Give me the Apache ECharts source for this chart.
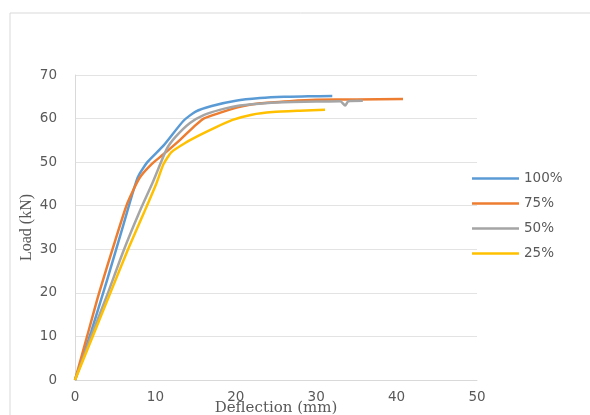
<!DOCTYPE html>
<html>
<head>
<meta charset="utf-8">
<script src="https://cdn.jsdelivr.net/npm/echarts@6/dist/echarts.min.js"></script>
<style>html,body{margin:0;padding:0;background:#fff}#c{width:590px;height:415px}</style>
</head>
<body>
<div id="c"></div>
<script>
const seriesNames = ['100%', '75%', '50%', '25%'];
const colors = ['#5B9BD5', '#ED7D31', '#A5A5A5', '#FFC000'];
const xTicks = [0, 10, 20, 30, 40, 50];
const yTicks = [0, 10, 20, 30, 40, 50, 60, 70];
const s100 = [[0,0],[2,11],[4,23],[6,35.5],[7.8,46.5],[9,50],[11,53.8],[13.5,59.5],[15,61.6],[17,62.9],[20,64.1],[23,64.7],[26,65],[29,65.1],[32,65.2]];
const s75 = [[0,0],[1.5,10],[3,20],[5,32],[6.5,40.5],[8,46.3],[9.5,49.5],[11,51.8],[13,55],[15,58.5],[16,60],[18,61.3],[20.5,62.7],[23,63.5],[26.7,64],[30,64.3],[35,64.4],[40.8,64.5]];
const s50 = [[0,0],[2,10],[4,19.5],[6,29.5],[8,38.5],[9.7,45.5],[11.4,53],[12.5,55.8],[14.3,59],[16,60.8],[18,62],[20.5,63],[24,63.6],[27,63.8],[30,63.9],[33,64],[33.6,63],[34,64],[35.8,64.1]];
const s25 = [[0,0],[2.2,10],[4.4,20],[6.6,30],[8.6,38.5],[10.1,45],[11,49.5],[12,52.3],[13.7,54.4],[15.5,56.2],[17.5,58],[19.6,59.7],[22,60.9],[24.6,61.5],[28,61.8],[31.1,62]];
const allData = [s100, s75, s50, s25];

const chart = echarts.init(document.getElementById('c'), null, {renderer: 'canvas'});
const labelColor = '#595959';
chart.setOption({
  animation: false,
  backgroundColor: '#fff',
  graphic: [{
    type: 'rect', shape: {x: 10, y: 13, width: 600, height: 420},
    style: {fill: 'none', stroke: '#d9d9d9', lineWidth: 1}, silent: true, z: -1
  }],
  grid: {left: 75, right: 113, top: 75, bottom: 35, containLabel: false, outerBoundsMode: 'none'},
  legend: {
    orient: 'vertical', left: 472, top: 171, padding: 0,
    icon: 'rect', itemWidth: 47, itemHeight: 2.5, itemGap: 10,
    data: seriesNames,
    textStyle: {color: labelColor, fontFamily: 'DejaVu Sans', fontSize: 13.5, lineHeight: 15}
  },
  xAxis: {
    type: 'value', min: 0, max: 50, interval: 10,
    name: 'Deflection (mm)', nameLocation: 'middle', nameGap: 21, nameMoveOverlap: false,
    nameTextStyle: {color: labelColor, fontFamily: 'DejaVu Serif', fontSize: 15},
    axisLine: {show: true, lineStyle: {color: '#d9d9d9'}},
    axisTick: {show: false},
    splitLine: {show: false},
    axisLabel: {color: labelColor, fontFamily: 'DejaVu Sans', fontSize: 13.5, margin: 10,
      formatter: v => xTicks.includes(v) ? String(v) : ''}
  },
  yAxis: {
    type: 'value', min: 0, max: 70, interval: 10,
    name: 'Load (kN)', nameLocation: 'middle', nameGap: 40, nameRotate: 90, nameMoveOverlap: false,
    nameTextStyle: {color: labelColor, fontFamily: 'Liberation Serif', fontSize: 16},
    axisLine: {show: true, lineStyle: {color: '#d9d9d9'}},
    axisTick: {show: false},
    splitLine: {show: true, lineStyle: {color: '#e3e3e3'}},
    axisLabel: {color: labelColor, fontFamily: 'DejaVu Sans', fontSize: 13.5, margin: 18,
      formatter: v => yTicks.includes(v) ? String(v) : ''}
  },
  series: seriesNames.map((n, i) => ({
    name: n, type: 'line', data: allData[i], smooth: 0.2,
    showSymbol: false, symbol: 'none',
    lineStyle: {color: colors[i], width: 2.5},
    itemStyle: {color: colors[i]}
  }))
});
</script>
</body>
</html>
